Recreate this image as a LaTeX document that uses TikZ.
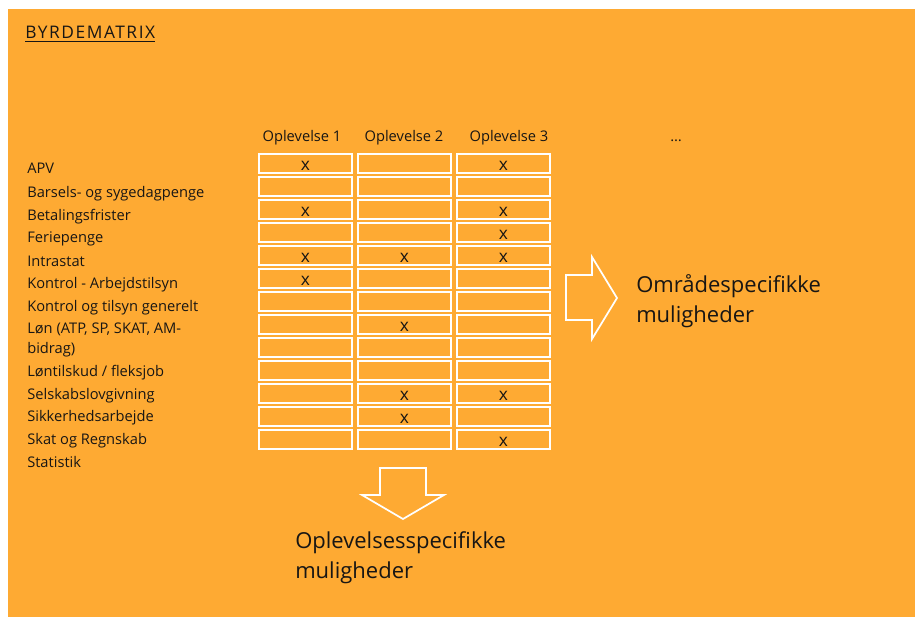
\documentclass[tikz,border=0pt]{standalone}
\usepackage{fontspec}
\setmainfont{Open Sans}
\usetikzlibrary{positioning}
\definecolor{byrdeOrange}{RGB}{254,170,51}
\definecolor{byrdeInk}{RGB}{24,22,20}

\begin{document}
\begin{tikzpicture}[x=0.75pt,y=-0.75pt,
  lbl/.style={anchor=base west,inner sep=0pt,text=byrdeInk,font=\fontsize{11}{14.3}\selectfont},
  head/.style={anchor=base,inner sep=0pt,text=byrdeInk,font=\fontsize{11}{13}\selectfont},
  cell/.style={draw=white,line width=1.2pt,minimum width=70pt,minimum height=14.6pt,inner sep=0pt},
  xmark/.style={inner sep=0pt,yshift=-1.5pt,text=byrdeInk,font=\fontsize{13}{15}\selectfont},
  big/.style={anchor=base west,inner sep=0pt,align=left,text=byrdeInk,font=\fontsize{16.5}{22}\selectfont},
  blockarrow/.style={draw=white,line width=1.3pt}
]
  \useasboundingbox (0,0) rectangle (915,617);
  \fill[white] (0,0) rectangle (915,617);
  \fill[byrdeOrange] (8,9) rectangle (915,617);

  \node[lbl,font=\fontsize{13}{15}\selectfont\addfontfeatures{LetterSpace=9}] (title) at (25,39)
    {\underline{BYRDEMATRIX}};

  % kolonner
  \node[head] (h1) at (302,142) {Oplevelse 1};
  \node[head] (h2) at (404,142) {Oplevelse 2};
  \node[head] (h3) at (509,142) {Oplevelse 3};
  \node[head] (hmore) at (676,142) {\dots};

  % omraader
  \foreach \y/\t [count=\i] in {174/APV,197/Barsels- og sygedagpenge,220/Betalingsfrister,
      243/Feriepenge,266/Intrastat,288/Kontrol - Arbejdstilsyn,311/Kontrol og tilsyn generelt,
      376/{Løntilskud / fleksjob},399/Selskabslovgivning,421/Sikkerhedsarbejde,
      444/Skat og Regnskab,467/Statistik}
    \node[lbl] (r\i) at (27,\y) {\t};
  \node[lbl,align=left] (rlon) at (27,353) {Løn (ATP, SP, SKAT, AM-\\bidrag)};

  % matrix
  \foreach \r in {1,...,13}
    \foreach \c in {1,2,3}
      \node[cell] (c-\r-\c) at ({305.5+99*(\c-1)},{163.5+23*(\r-1)}) {};
  \foreach \r/\c in {1/1,1/3,3/1,3/3,4/3,5/1,5/2,5/3,6/1,8/2,11/2,11/3,12/2,13/3}
    \node[xmark] (x-\r-\c) at (c-\r-\c) {x};

  % pile
  \draw[blockarrow] (566,275) -- (592,275) -- (592,257) -- (617,298)
    -- (592,339) -- (592,320) -- (566,320) -- cycle;
  \draw[blockarrow] (380,468) -- (426,468) -- (426,495) -- (444,495) -- (403,519)
    -- (362,495) -- (380,495) -- cycle;

  \node[big] (omr) at (636,322) {Områdespecifikke\\muligheder};
  \node[big] (opl) at (295,578) {Oplevelsesspecifikke\\muligheder};
\end{tikzpicture}
\end{document}
